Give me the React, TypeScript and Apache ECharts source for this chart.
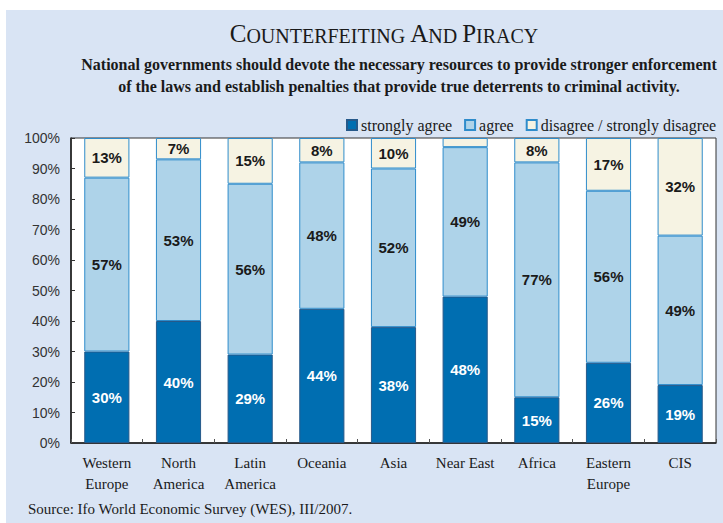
import React, { useEffect, useRef } from "react";
import * as echarts from "echarts";

const categories = [
  "Western\nEurope",
  "North\nAmerica",
  "Latin\nAmerica",
  "Oceania",
  "Asia",
  "Near East",
  "Africa",
  "Eastern\nEurope",
  "CIS",
];
const stronglyAgree = [30, 40, 29, 44, 38, 48, 15, 26.3, 19];
const agree = [57, 53, 56, 48, 52, 49, 77, 56.4, 49];
const disagree = [13, 7, 15, 8, 10, 3, 8, 17.3, 32];
const seriesNames = ["strongly agree", "agree", "disagree / strongly disagree"];
const yTicks = { min: 0, max: 100, interval: 10 };

const SERIF = "'Liberation Serif', 'Times New Roman', serif";
const SANS = "'Liberation Sans', Arial, sans-serif";

export default function App() {
  const ref = useRef<HTMLDivElement>(null);
  useEffect(() => {
    if (!ref.current) return;
    const chart = echarts.init(ref.current, undefined, { renderer: "svg" });
    const labelCfg = (color: string) => ({
      show: true,
      position: "inside",
      color,
      fontFamily: SANS,
      fontWeight: "bold",
      fontSize: 15,
      formatter: (p: any) => (p.value >= 5 ? Math.round(p.value) + "%" : ""),
    });
    const option: any = {
      animation: false,
      backgroundColor: "#ffffff",
      graphic: [
        {
          type: "rect",
          z: -10,
          shape: { x: 6, y: 10, width: 717, height: 513 },
          style: { fill: "#d9e4f4" },
          silent: true,
        },
        {
          type: "text",
          x: 384,
          y: 33,
          style: {
            text: "{a|C}{b|OUNTERFEITING }{a|A}{b|ND }{a|P}{b|IRACY}",
            textAlign: "center",
            textVerticalAlign: "middle",
            fill: "#1a1a1a",
            rich: {
              a: { fontFamily: SERIF, fontSize: 25, fill: "#1a1a1a", verticalAlign: "bottom" },
              b: { fontFamily: SERIF, fontSize: 20, fill: "#1a1a1a", verticalAlign: "bottom" },
            },
          },
        },
        {
          type: "text",
          x: 399,
          y: 75,
          style: {
            text:
              "National governments should devote the necessary resources to provide stronger enforcement\nof the laws and establish penalties that provide true deterrents to criminal activity.",
            textAlign: "center",
            textVerticalAlign: "middle",
            fontFamily: SERIF,
            fontWeight: "bold",
            fontSize: 16,
            lineHeight: 22,
            fill: "#1a1a1a",
          },
        },
        {
          type: "text",
          x: 28,
          y: 509,
          style: {
            text: "Source: Ifo World Economic Survey (WES), III/2007.",
            textVerticalAlign: "middle",
            fontFamily: SERIF,
            fontSize: 15,
            fill: "#1a1a1a",
          },
        },
      ],
      legend: {
        left: 341,
        top: 112,
        width: 382,
        itemWidth: 10,
        itemHeight: 10,
        itemGap: 12,
        icon: "rect",
        textStyle: { fontFamily: SERIF, fontSize: 16, color: "#1a1a1a", padding: [0, 0, 0, -1] },
        data: seriesNames,
      },
      grid: {
        left: 71,
        right: 7,
        top: 138,
        bottom: 80,
        show: true,
        backgroundColor: "#ffffff",
        borderColor: "#333333",
        borderWidth: 1,
      },
      xAxis: {
        type: "category",
        data: categories,
        axisLine: { lineStyle: { color: "#1a1a1a", width: 1.5 } },
        axisTick: { show: true, inside: true, length: 4, alignWithLabel: false, lineStyle: { color: "#555" } },
        axisLabel: {
          fontFamily: SERIF,
          fontSize: 15,
          color: "#1a1a1a",
          lineHeight: 21,
          margin: 9,
          interval: 0,
        },
      },
      yAxis: {
        type: "value",
        min: yTicks.min,
        max: yTicks.max,
        interval: yTicks.interval,
        axisLine: { show: true, lineStyle: { color: "#1a1a1a", width: 1.5 } },
        axisTick: { show: true, inside: true, length: 4, lineStyle: { color: "#333" } },
        splitLine: { show: false },
        axisLabel: {
          formatter: "{value}%",
          fontFamily: SANS,
          fontSize: 14,
          color: "#333333",
          margin: 11,
        },
      },
      series: [
        {
          name: seriesNames[0],
          type: "bar",
          stack: "total",
          barWidth: "63%",
          data: stronglyAgree,
          itemStyle: { color: "#006eb1", borderColor: "#26598a", borderWidth: 1 },
          label: labelCfg("#ffffff"),
        },
        {
          name: seriesNames[1],
          type: "bar",
          stack: "total",
          data: agree,
          itemStyle: { color: "#aed3e9", borderColor: "#2f8ccb", borderWidth: 1 },
          label: labelCfg("#1a1a1a"),
        },
        {
          name: seriesNames[2],
          type: "bar",
          stack: "total",
          data: disagree,
          itemStyle: { color: "#f6f3e3", borderColor: "#2f8ccb", borderWidth: 1 },
          label: labelCfg("#1a1a1a"),
        },
      ],
    };
    chart.setOption(option);
    return () => chart.dispose();
  }, []);
  return (
    <div
      ref={ref}
      style={{ position: "absolute", left: 0, top: 0, width: 723, height: 523 }}
    />
  );
}
